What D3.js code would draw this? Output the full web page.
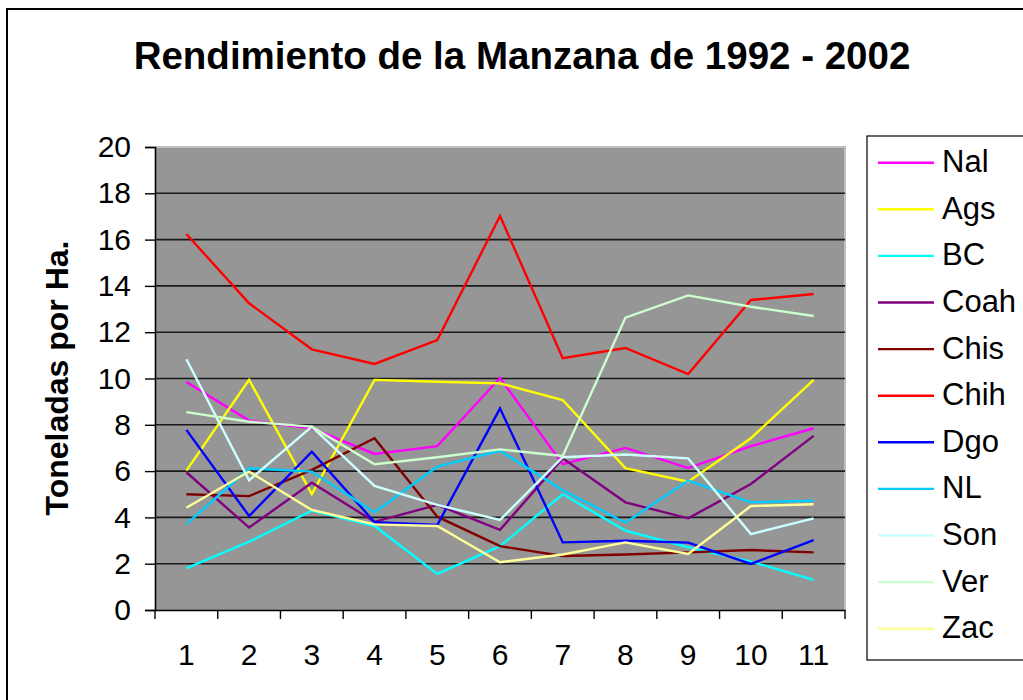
<!DOCTYPE html>
<html>
<head>
<meta charset="utf-8">
<script src="https://cdn.jsdelivr.net/npm/d3@7"></script>
<style>
  html, body { margin: 0; padding: 0; background: #fff; }
  svg { display: block; }
  text { font-family: "Liberation Sans", Arial, sans-serif; }
</style>
</head>
<body>
<svg id="chart" width="1023" height="700"></svg>
<script>
const categories = ["1","2","3","4","5","6","7","8","9","10","11"];
const yTicks = [0,2,4,6,8,10,12,14,16,18,20];
const seriesNames = ["Nal","Ags","BC","Coah","Chis","Chih","Dgo","NL","Son","Ver","Zac"];
const seriesColors = ["#ff00ff","#ffff00","#00ffff","#800080","#800000","#ff0000","#0000ff","#00ccff","#ccffff","#ccffcc","#ffff99"];

const Nal  = [9.85, 8.18, 7.85, 6.74, 7.08, 10.02, 6.30, 7.00, 6.13, 7.08, 7.85];
const Ags  = [6.02, 9.94, 5.01, 9.94, 9.86, 9.79, 9.07, 6.13, 5.54, 7.42, 9.94];
const BC   = [1.80, 2.95, 4.29, 3.63, 1.56, 2.76, 5.00, 3.43, 2.71, 2.09, 1.30];
const Coah = [5.95, 3.56, 5.50, 3.81, 4.54, 3.46, 6.55, 4.65, 3.96, 5.44, 7.52];
const Chis = [5.00, 4.92, 6.05, 7.42, 4.03, 2.76, 2.33, 2.40, 2.49, 2.59, 2.49];
const Chih = [16.24, 13.25, 11.26, 10.63, 11.66, 17.02, 10.88, 11.32, 10.19, 13.39, 13.65];
const Dgo  = [7.78, 4.06, 6.84, 3.79, 3.67, 8.71, 2.92, 2.99, 2.91, 1.99, 3.02];
const NL   = [3.71, 6.12, 5.98, 4.22, 6.19, 6.88, 5.18, 3.77, 5.59, 4.65, 4.72];
const Son  = [10.83, 5.60, 7.92, 5.36, 4.54, 3.89, 6.60, 6.72, 6.55, 3.28, 3.96];
const Ver  = [8.55, 8.13, 7.92, 6.30, 6.60, 6.94, 6.65, 12.63, 13.59, 13.10, 12.70];
const Zac  = [4.42, 5.98, 4.32, 3.70, 3.63, 2.06, 2.40, 2.92, 2.42, 4.49, 4.57];

const seriesValues = [Nal, Ags, BC, Coah, Chis, Chih, Dgo, NL, Son, Ver, Zac];

const svg = d3.select("#chart");

// outer frame
svg.append("rect").attr("x", 7).attr("y", 9).attr("width", 1040).attr("height", 720)
  .attr("fill", "#fff").attr("stroke", "#000").attr("stroke-width", 2);

const plot = { left: 155, right: 845, top: 147, bottom: 610 };

const x = d3.scaleBand().domain(categories).range([plot.left, plot.right]).padding(0);
const y = d3.scaleLinear().domain([0, 20]).range([plot.bottom, plot.top]);

// plot background
svg.append("rect").attr("x", plot.left).attr("y", plot.top)
  .attr("width", plot.right - plot.left).attr("height", plot.bottom - plot.top)
  .attr("fill", "#969696");
// top/right light border
svg.append("path")
  .attr("d", `M${plot.left},${plot.top}H${plot.right}V${plot.bottom}`)
  .attr("fill", "none").attr("stroke", "#c0c0c0").attr("stroke-width", 2);

// gridlines
svg.append("g").selectAll("line").data(yTicks.filter(d => d > 0 && d < 20)).join("line")
  .attr("x1", plot.left).attr("x2", plot.right)
  .attr("y1", d => y(d)).attr("y2", d => y(d))
  .attr("stroke", "#1a1a1a").attr("stroke-width", 1.6);

// y axis
const yAxis = d3.axisLeft(y).tickValues(yTicks).tickSize(10).tickPadding(14).tickFormat(d3.format("d"));
const gy = svg.append("g").attr("transform", `translate(${plot.left},0)`).call(yAxis);
gy.select(".domain").attr("stroke", "#000").attr("stroke-width", 1.6);
gy.selectAll(".tick line").attr("stroke", "#000").attr("stroke-width", 1.4);
gy.selectAll(".tick text").attr("font-size", 30).attr("fill", "#000")
  .attr("font-family", "'Liberation Sans', Arial, sans-serif");

// x axis
const xAxis = d3.axisBottom(x).tickSize(0).tickPadding(34);
const gx = svg.append("g").attr("transform", `translate(0,${plot.bottom})`).call(xAxis);
gx.select(".domain").attr("stroke", "#000").attr("stroke-width", 1.6);
gx.selectAll(".tick text").attr("font-size", 30).attr("fill", "#000")
  .attr("font-family", "'Liberation Sans', Arial, sans-serif");
// tick marks at category boundaries
const bounds = categories.map(c => x(c)).concat([x(categories[categories.length - 1]) + x.bandwidth()]);
svg.append("g").selectAll("line").data(bounds).join("line")
  .attr("x1", d => d).attr("x2", d => d)
  .attr("y1", plot.bottom).attr("y2", plot.bottom + 9)
  .attr("stroke", "#000").attr("stroke-width", 1.4);

// lines
const line = d3.line()
  .x((d, i) => x(categories[i]) + x.bandwidth() / 2)
  .y(d => y(d));

svg.append("g").selectAll("path").data(seriesValues).join("path")
  .attr("d", d => line(d))
  .attr("fill", "none")
  .attr("stroke", (d, i) => seriesColors[i])
  .attr("stroke-width", 2.4)
  .attr("stroke-linejoin", "miter");

// title
svg.append("text").attr("x", 522).attr("y", 69).attr("text-anchor", "middle")
  .attr("font-size", 38.5).attr("font-weight", "bold").attr("fill", "#000")
  .text("Rendimiento de la Manzana de 1992 - 2002");

// y axis title
svg.append("text").attr("transform", "translate(68,378) rotate(-90)")
  .attr("text-anchor", "middle").attr("font-size", 32).attr("font-weight", "bold")
  .attr("fill", "#000").text("Toneladas por Ha.");

// legend
const lg = svg.append("g");
lg.append("rect").attr("x", 867).attr("y", 136).attr("width", 170).attr("height", 524)
  .attr("fill", "#fff").attr("stroke", "#000").attr("stroke-width", 1.2);
const rows = lg.selectAll("g.row").data(seriesNames).join("g").attr("class", "row")
  .attr("transform", (d, i) => `translate(0,${162.7 + i * 46.6})`);
rows.append("line").attr("x1", 878).attr("x2", 934).attr("y1", 0).attr("y2", 0)
  .attr("stroke", (d, i) => seriesColors[i]).attr("stroke-width", 2.4);
rows.append("text").attr("x", 942).attr("y", 9.5).attr("font-size", 31).attr("fill", "#000")
  .text(d => d);
</script>
</body>
</html>
